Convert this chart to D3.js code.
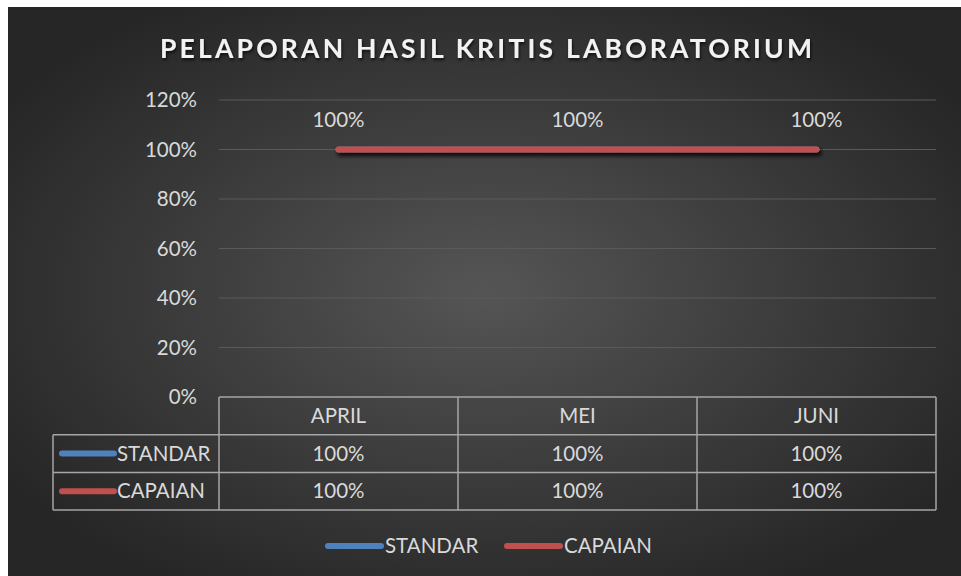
<!DOCTYPE html>
<html>
<head>
<meta charset="utf-8">
<script src="https://cdn.jsdelivr.net/npm/d3@7"></script>
<style>
  html, body { margin: 0; padding: 0; background: #fff; }
  svg { display: block; }
  text { font-family: Lato, "Open Sans", sans-serif; }
</style>
</head>
<body>
<div id="chart"></div>
<script>
(function () {
  'use strict';

  const TITLE = 'PELAPORAN HASIL KRITIS LABORATORIUM';
  const categories = ['APRIL', 'MEI', 'JUNI'];
  const standar = [1, 1, 1];
  const capaian = [1, 1, 1];
  const yTicks = [0, 0.2, 0.4, 0.6, 0.8, 1.0, 1.2];

  const SERIES = [
    { name: 'STANDAR', values: standar, color: '#4f81bd' },
    { name: 'CAPAIAN', values: capaian, color: '#c0504d' },
  ];

  const W = 961, H = 576;
  const TEXT = '#d9d9d9';
  const FS = 20.5;
  const fmt = d3.format('.0%');

  const svg = d3.select('#chart').append('svg')
    .attr('width', W).attr('height', H);

  const defs = svg.append('defs');
  const grad = defs.append('radialGradient')
    .attr('id', 'bg').attr('cx', '50%').attr('cy', '50%').attr('r', '60%');
  grad.append('stop').attr('offset', '0%').attr('stop-color', '#555555');
  grad.append('stop').attr('offset', '100%').attr('stop-color', '#262626');

  // userSpaceOnUse so flat (zero-height) lines still get the shadow
  const shadow = defs.append('filter').attr('id', 'shadow')
    .attr('filterUnits', 'userSpaceOnUse')
    .attr('x', 0).attr('y', 0).attr('width', W).attr('height', H);
  shadow.append('feDropShadow')
    .attr('dx', 2).attr('dy', 3).attr('stdDeviation', 2)
    .attr('flood-color', '#000').attr('flood-opacity', 0.6);

  const tshadow = defs.append('filter').attr('id', 'tshadow');
  tshadow.append('feDropShadow')
    .attr('dx', 1).attr('dy', 2).attr('stdDeviation', 1.5)
    .attr('flood-color', '#000').attr('flood-opacity', 0.7);

  // chart area background
  svg.append('rect')
    .attr('x', 8).attr('y', 7).attr('width', W - 8).attr('height', H - 7)
    .attr('fill', 'url(#bg)');

  // title
  svg.append('text')
    .attr('x', 486).attr('y', 58)
    .attr('text-anchor', 'middle')
    .attr('fill', '#f2f2f2')
    .attr('font-size', 26.5).attr('font-weight', 700)
    .attr('textLength', 652).attr('lengthAdjust', 'spacing')
    .attr('filter', 'url(#tshadow)')
    .text(TITLE);

  const plot = { left: 219, right: 936, top: 100, bottom: 397 };

  const x = d3.scaleBand().domain(categories)
    .range([plot.left, plot.right]).padding(0);
  const y = d3.scaleLinear().domain([0, 1.2])
    .range([plot.bottom, plot.top]);

  // gridlines
  svg.append('g')
    .selectAll('line')
    .data(yTicks.filter(d => d > 0))
    .join('line')
      .attr('x1', plot.left).attr('x2', plot.right)
      .attr('y1', d => y(d)).attr('y2', d => y(d))
      .attr('stroke', '#5a5a5a').attr('stroke-width', 1);

  // y axis labels
  const yAxis = d3.axisLeft(y).tickValues(yTicks).tickFormat(fmt).tickSize(0).tickPadding(22);
  const yg = svg.append('g').attr('transform', `translate(${plot.left},0)`).call(yAxis);
  yg.select('.domain').remove();
  yg.selectAll('text')
    .attr('fill', TEXT).attr('font-size', FS)
    .attr('font-family', 'Lato, "Open Sans", sans-serif');

  // lines
  const line = d3.line()
    .x((d, i) => x(categories[i]) + x.bandwidth() / 2)
    .y(d => y(d));

  SERIES.forEach(s => {
    svg.append('path')
      .datum(s.values)
      .attr('d', line)
      .attr('fill', 'none')
      .attr('stroke', s.color)
      .attr('stroke-width', 6)
      .attr('stroke-linecap', 'round')
      .attr('stroke-linejoin', 'round')
      .attr('filter', 'url(#shadow)');
  });

  // data labels (top series)
  svg.append('g')
    .selectAll('text')
    .data(capaian)
    .join('text')
      .attr('x', (d, i) => x(categories[i]) + x.bandwidth() / 2)
      .attr('y', d => y(d) - 23)
      .attr('text-anchor', 'middle')
      .attr('fill', TEXT).attr('font-size', FS)
      .text(d => fmt(d));

  // data table
  const rowH = 37.7;
  const tableTop = plot.bottom;
  const tableLeft = 53;
  const tbl = svg.append('g')
    .attr('stroke', '#a6a6a6').attr('stroke-width', 1.5).attr('fill', 'none');

  tbl.append('line')
    .attr('x1', plot.left).attr('x2', plot.right)
    .attr('y1', tableTop).attr('y2', tableTop);
  [1, 2, 3].forEach(r => {
    tbl.append('line')
      .attr('x1', tableLeft).attr('x2', plot.right)
      .attr('y1', tableTop + rowH * r).attr('y2', tableTop + rowH * r);
  });
  tbl.append('line')
    .attr('x1', tableLeft).attr('x2', tableLeft)
    .attr('y1', tableTop + rowH).attr('y2', tableTop + rowH * 3);
  categories.map(c => x(c)).concat([plot.right]).forEach(xv => {
    tbl.append('line')
      .attr('x1', xv).attr('x2', xv)
      .attr('y1', tableTop).attr('y2', tableTop + rowH * 3);
  });

  // header texts
  svg.append('g')
    .selectAll('text')
    .data(categories)
    .join('text')
      .attr('x', d => x(d) + x.bandwidth() / 2)
      .attr('y', tableTop + rowH / 2 + 7)
      .attr('text-anchor', 'middle')
      .attr('fill', TEXT).attr('font-size', FS)
      .text(d => d);

  // series rows
  SERIES.forEach((s, r) => {
    const cy = tableTop + rowH * (r + 1) + rowH / 2;
    const g = svg.append('g');
    g.append('line')
      .attr('x1', 62).attr('x2', 114)
      .attr('y1', cy).attr('y2', cy)
      .attr('stroke', s.color).attr('stroke-width', 6)
      .attr('stroke-linecap', 'round');
    g.append('text')
      .attr('x', 117).attr('y', cy + 7)
      .attr('fill', TEXT).attr('font-size', FS)
      .text(s.name);
    g.selectAll('text.val')
      .data(s.values)
      .join('text')
        .attr('class', 'val')
        .attr('x', (d, i) => x(categories[i]) + x.bandwidth() / 2)
        .attr('y', cy + 7)
        .attr('text-anchor', 'middle')
        .attr('fill', TEXT).attr('font-size', FS)
        .text(d => fmt(d));
  });

  // legend
  const legendX = [328, 507];
  SERIES.forEach((s, i) => {
    const g = svg.append('g').attr('transform', `translate(${legendX[i]},546)`);
    g.append('line')
      .attr('x1', 0).attr('x2', 53)
      .attr('stroke', s.color).attr('stroke-width', 6)
      .attr('stroke-linecap', 'round');
    g.append('text')
      .attr('x', 57).attr('y', 7)
      .attr('fill', TEXT).attr('font-size', FS)
      .text(s.name);
  });
})();
</script>
</body>
</html>
